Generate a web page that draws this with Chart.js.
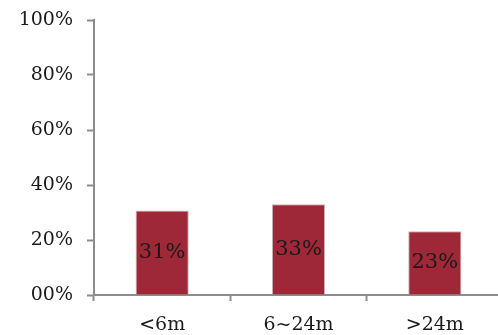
<!DOCTYPE html>
<html>
<head>
<meta charset="utf-8">
<script src="https://cdn.jsdelivr.net/npm/chart.js@4"></script>
<style>
  html, body { margin: 0; padding: 0; background: #fff; overflow: hidden; }
  #wrap { width: 505px; height: 335px; }
</style>
</head>
<body>
<div id="wrap"><canvas id="chart"></canvas></div>
<script>
const categories = ['<6m', '6~24m', '>24m'];
const shares = [30.7, 33.0, 23.2];
const barLabels = ['31%', '33%', '23%'];
const yTickLabels = ['00%', '20%', '40%', '60%', '80%', '100%'];

const axisGrey = '#8c8c8c';
const serif = "'DejaVu Serif', 'Liberation Serif', serif";

// draw the percentage in the middle of each bar
const barText = {
  id: 'barText',
  afterDatasetsDraw(chart) {
    const ctx = chart.ctx;
    const meta = chart.getDatasetMeta(0);
    ctx.save();
    ctx.font = '21px ' + serif;
    ctx.fillStyle = '#1a1a1a';
    ctx.textAlign = 'center';
    ctx.textBaseline = 'middle';
    meta.data.forEach((bar, i) => {
      const { x, y, base } = bar.getProps(['x', 'y', 'base'], true);
      ctx.fillText(barLabels[i], x, (y + base) / 2);
    });
    ctx.restore();
  }
};

const ctx = document.getElementById('chart').getContext('2d');
new Chart(ctx, {
  type: 'bar',
  data: {
    labels: categories,
    datasets: [{
      data: shares,
      backgroundColor: '#9e2837',
      borderColor: '#c9b3b6',
      borderWidth: 1,
      barPercentage: 0.39,
      categoryPercentage: 1
    }]
  },
  options: {
    responsive: true,
    maintainAspectRatio: false,
    animation: false,
    layout: { padding: { top: 20, right: 2, bottom: 0, left: 0 } },
    plugins: {
      legend: { display: false },
      tooltip: { enabled: false }
    },
    scales: {
      x: {
        afterFit: (s) => { s.height = 40; s.paddingLeft = 0; s.paddingRight = 0; },
        border: { color: axisGrey, width: 2 },
        grid: {
          offset: true,
          drawOnChartArea: false,
          drawTicks: true,
          tickLength: 6,
          tickColor: axisGrey,
          tickWidth: 2
        },
        ticks: {
          color: '#1a1a1a',
          padding: 13,
          font: { family: serif, size: 19 }
        }
      },
      y: {
        min: 0,
        max: 100,
        afterFit: (s) => { s.width = 94; s.paddingTop = 0; s.paddingBottom = 0; },
        border: { color: axisGrey, width: 2 },
        grid: {
          drawOnChartArea: false,
          drawTicks: true,
          tickLength: 7,
          tickColor: axisGrey,
          tickWidth: 2
        },
        ticks: {
          stepSize: 20,
          color: '#1a1a1a',
          padding: 14,
          font: { family: serif, size: 19 },
          callback: (value, index) => yTickLabels[index]
        }
      }
    }
  },
  plugins: [barText]
});
</script>
</body>
</html>
